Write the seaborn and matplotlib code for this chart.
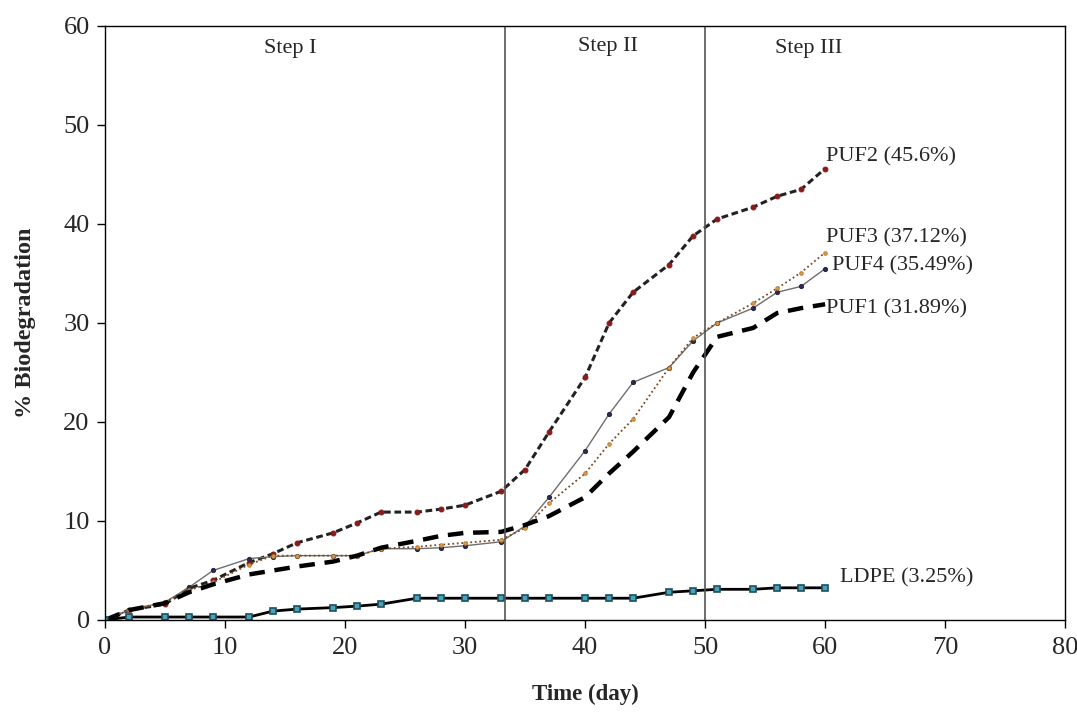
import pandas as pd
import matplotlib
matplotlib.use("Agg")
import matplotlib.pyplot as plt
import seaborn as sns

# sampling days (same for every series)
days = [0, 2, 5, 7, 9, 12, 14, 16, 19, 21, 23, 26, 28, 30, 33, 35, 37,
        40, 42, 44, 47, 49, 51, 54, 56, 58, 60]

puf1 = [0, 1.0, 1.7, 2.8, 3.6, 4.6, 5.0, 5.4, 5.9, 6.5, 7.3, 8.0, 8.5, 8.8, 8.9,
        9.6, 10.5, 12.4, 14.8, 17.0, 20.5, 25.0, 28.6, 29.5, 31.0, 31.5, 31.89]
puf2 = [0, 1.0, 1.6, 3.2, 4.0, 5.8, 6.7, 7.8, 8.8, 9.8, 10.9, 10.9, 11.2, 11.6, 13.0,
        15.2, 19.0, 24.5, 30.0, 33.1, 35.9, 38.8, 40.5, 41.7, 42.8, 43.5, 45.6]
puf3 = [0, 1.0, 1.8, 3.0, 3.8, 5.6, 6.5, 6.5, 6.5, 6.5, 7.2, 7.4, 7.6, 7.8, 8.1,
        9.3, 11.8, 14.8, 17.8, 20.3, 25.5, 28.5, 30.0, 32.0, 33.5, 35.1, 37.12]
puf4 = [0, 1.0, 1.8, 3.3, 5.0, 6.2, 6.4, 6.5, 6.5, 6.5, 7.2, 7.2, 7.3, 7.5, 7.9,
        9.5, 12.4, 17.1, 20.8, 24.0, 25.5, 28.2, 30.0, 31.5, 33.1, 33.7, 35.49]
ldpe = [0, 0.3, 0.3, 0.3, 0.3, 0.3, 0.9, 1.1, 1.25, 1.4, 1.6, 2.2, 2.2, 2.2, 2.2,
        2.2, 2.2, 2.2, 2.2, 2.2, 2.8, 2.95, 3.1, 3.1, 3.25, 3.25, 3.25]

end_labels = ["PUF1 (31.89%)", "PUF2 (45.6%)", "PUF3 (37.12%)", "PUF4 (35.49%)", "LDPE (3.25%)"]
step_labels = ["Step I", "Step II", "Step III"]
step_bounds = [100 / 3, 50]

df = pd.DataFrame({"Day": days, "PUF1": puf1, "PUF2": puf2, "PUF3": puf3,
                   "PUF4": puf4, "LDPE": ldpe})

sns.set_style("ticks")
plt.rcParams["font.family"] = ["Liberation Serif", "DejaVu Serif"]

fig = plt.figure(figsize=(10.77, 7.18), dpi=100)
ax = fig.add_axes([0.0975, 0.1365, 0.8915, 0.8273])

sns.lineplot(data=df, x="Day", y="PUF2", ax=ax, color="#222222", lw=2.2,
             linestyle=(0, (2.2, 1.2)), marker="o", ms=3.5, mfc="#8b1a1a", mec="#8b1a1a")
sns.lineplot(data=df, x="Day", y="PUF4", ax=ax, color="#6e6e6e", lw=1.0,
             marker="o", ms=3, mfc="#2a2a4a", mec="#2a2a4a")
sns.lineplot(data=df, x="Day", y="PUF3", ax=ax, color="#7a4a20", lw=1.3,
             linestyle=(0, (1, 1.5)), marker="o", ms=2.5, mfc="#e0a040", mec="#c08030")
sns.lineplot(data=df, x="Day", y="PUF1", ax=ax, color="black", lw=3.2,
             linestyle=(0, (3.5, 2.2)))
sns.lineplot(data=df, x="Day", y="LDPE", ax=ax, color="black", lw=2.0,
             marker="s", ms=5, mfc="#4aa3b8", mec="#1d4f5c", mew=1.2)

# step boundaries
for b in step_bounds:
    ax.axvline(b, color="#555555", lw=1.2)

ax.text(15.4, 57.7, step_labels[0], ha="center", va="center", fontsize=16)
ax.text(41.9, 57.9, step_labels[1], ha="center", va="center", fontsize=16)
ax.text(58.6, 57.7, step_labels[2], ha="center", va="center", fontsize=16)

# end labels
ax.text(60.1, 31.4, end_labels[0], ha="left", va="center", fontsize=16)
ax.text(60.1, 46.8, end_labels[1], ha="left", va="center", fontsize=16)
ax.text(60.1, 38.6, end_labels[2], ha="left", va="center", fontsize=16)
ax.text(60.6, 35.8, end_labels[3], ha="left", va="center", fontsize=16)
ax.text(61.2, 4.3, end_labels[4], ha="left", va="center", fontsize=16)

ax.set_xlim(0, 80)
ax.set_ylim(0, 60)
ax.set_xticks(range(0, 81, 10))
ax.set_yticks(range(0, 61, 10))
ax.tick_params(labelsize=19, length=6, width=1, color="black", direction="out", pad=5)
ax.tick_params(axis="x", pad=6)
for s in ax.spines.values():
    s.set_visible(True)
    s.set_color("black")
    s.set_linewidth(1.0)
ax.set_xlabel("Time (day)", fontsize=16.5, fontweight="bold", labelpad=18)
ax.set_ylabel("% Biodegradation", fontsize=17.5, fontweight="bold", labelpad=20)

fig.savefig("out.png", dpi=100)
